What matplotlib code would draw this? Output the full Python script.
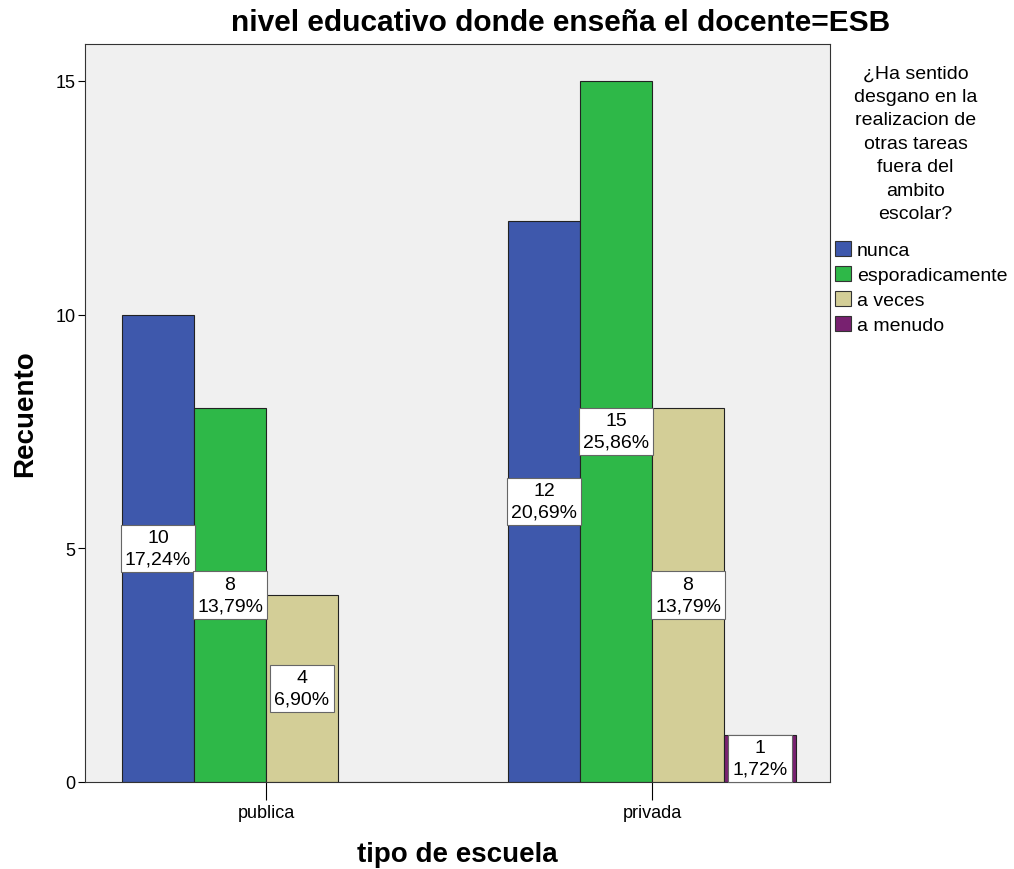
import numpy as np
import matplotlib
matplotlib.use('Agg')
import matplotlib.pyplot as plt
from matplotlib.patches import Patch

plt.rcParams['font.family'] = ['Liberation Sans', 'DejaVu Sans']

escuelas = ['publica', 'privada']
respuestas = ['nunca', 'esporadicamente', 'a veces', 'a menudo']
colores = ['#3E58AC', '#2EB848', '#D3CE97', '#782170']
# recuento por respuesta: [publica, privada]
recuento = {
    'nunca': [10, 12],
    'esporadicamente': [8, 15],
    'a veces': [4, 8],
    'a menudo': [0, 1],
}
porcentaje = {
    'nunca': ['17,24%', '20,69%'],
    'esporadicamente': ['13,79%', '25,86%'],
    'a veces': ['6,90%', '13,79%'],
    'a menudo': ['', '1,72%'],
}

fig = plt.figure(figsize=(10.14, 8.7), dpi=100)
ax = fig.add_axes([0.0838, 0.1, 0.7347, 0.8483])
ax.set_facecolor('#F0F0F0')

x = np.arange(len(escuelas))
w = 0.1865
for i, r in enumerate(respuestas):
    pos = x + (i - 1.5) * w
    vals = recuento[r]
    ax.bar(pos, vals, width=w, color=colores[i], edgecolor='#222222',
           linewidth=0.8, zorder=2)
    for p, v, pc in zip(pos, vals, porcentaje[r]):
        if v == 0:
            continue
        ax.text(p, v / 2, f'{v}\n{pc}', ha='center', va='center',
                fontsize=14, linespacing=1.35, zorder=3, clip_on=False,
                bbox=dict(boxstyle='square,pad=0.22', facecolor='white',
                          edgecolor='#666666', linewidth=0.8))

ax.set_xlim(-0.469, 1.461)
ax.set_ylim(0, 15.79)
ax.set_xticks(x)
ax.set_xticklabels(escuelas, fontsize=13)
ax.set_yticks([0, 5, 10, 15])
ax.tick_params(axis='y', labelsize=13, length=5, width=0.8, pad=2)
ax.tick_params(axis='x', length=13, width=0.8, pad=3)
for s in ax.spines.values():
    s.set_color('#333333')
    s.set_linewidth(0.8)

ax.set_xlabel('tipo de escuela', fontsize=20, fontweight='bold', labelpad=14)
ax.set_ylabel('Recuento', fontsize=20, fontweight='bold', labelpad=12)
fig.text(0.553, 0.974, 'nivel educativo donde enseña el docente=ESB',
         ha='center', va='center', fontsize=21.5, fontweight='bold')

fig.text(0.903, 0.834,
         '¿Ha sentido\ndesgano en la\nrealizacion de\notras tareas\nfuera del\nambito\nescolar?',
         ha='center', va='center', fontsize=14, linespacing=1.5)

handles = [Patch(facecolor=c, edgecolor='#333333', linewidth=0.8) for c in colores]
leg = fig.legend(handles, respuestas, loc='upper left',
                 bbox_to_anchor=(0.823, 0.722), frameon=False, fontsize=14,
                 handlelength=0.85, handleheight=0.85,
                 handletextpad=0.3, labelspacing=0.33, borderaxespad=0,
                 borderpad=0)

fig.savefig('out.png', dpi=100)
